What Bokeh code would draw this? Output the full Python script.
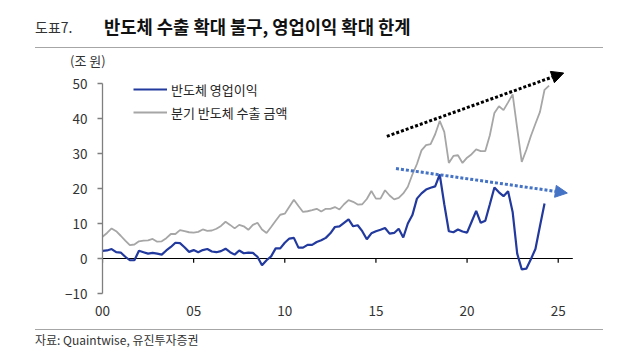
from bokeh.plotting import figure
from bokeh.models import (Legend, LegendItem, Arrow, NormalHead, Range1d,
                          FixedTicker, Div)
from bokeh.layouts import column
from bokeh.embed import file_html
from bokeh.resources import INLINE

# ---------------- data ----------------
# quarterly, 2000Q1 onward; x in years since 2000
op_profit = [2.2, 2.3, 2.7, 1.8, 1.7, 0.5, -0.5, -0.5, 2.2, 1.8, 1.4, 1.6,
             1.4, 1.1, 2.3, 3.3, 4.5, 4.4, 3.2, 1.9, 2.4, 1.8, 2.4, 2.7,
             2.0, 1.8, 2.1, 2.8, 1.8, 1.1, 2.3, 1.5, 1.7, 1.6, 0.5, -1.9,
             -0.5, 0.6, 2.9, 2.9, 4.5, 5.7, 5.9, 3.1, 3.1, 3.9, 3.9, 4.7,
             5.2, 5.9, 7.2, 9.0, 9.2, 10.2, 11.2, 9.2, 9.5, 7.8, 5.5, 7.2,
             7.8, 8.2, 8.7, 7.1, 7.3, 8.5, 6.0, 10.0, 12.4, 17.1, 18.6, 19.7,
             20.2, 20.6, 24.0, 15.5, 7.8, 7.5, 8.3, 7.7, 7.4, 10.5, 13.6, 10.2,
             10.8, 15.5, 20.3, 18.9, 17.8, 19.2, 13.3, 1.4, -3.1, -2.9, -0.2, 2.7,
             9.3, 15.7]
exports = [6.2, 7.3, 8.6, 7.8, 6.5, 5.1, 3.8, 4.0, 4.9, 5.1, 5.2, 5.6,
           4.8, 4.9, 5.8, 7.0, 7.0, 8.1, 7.8, 7.5, 7.4, 7.6, 8.3, 7.9,
           8.0, 8.5, 9.3, 10.5, 9.6, 8.6, 9.6, 9.2, 8.2, 9.6, 10.2, 8.3,
           7.3, 9.0, 10.8, 12.5, 12.8, 14.8, 16.8, 15.0, 13.3, 13.5, 13.8, 14.2,
           13.4, 14.2, 14.2, 14.7, 14.0, 15.5, 16.7, 16.2, 15.4, 15.5, 17.0, 19.3,
           17.1, 17.1, 19.5, 18.0, 16.9, 17.3, 18.6, 20.5, 24.0, 27.0, 30.9, 32.4,
           32.7, 35.5, 39.3, 36.2, 27.3, 29.3, 29.5, 27.3, 28.8, 29.8, 31.2, 30.7,
           30.7, 35.2, 41.6, 43.5, 42.4, 44.6, 46.9, 37.2, 27.6, 31.0, 35.0, 38.5,
           41.9, 48.2, 49.4]
x_ticks = [0, 5, 10, 15, 20, 25]
x_tick_labels = ["00", "05", "10", "15", "20", "25"]
y_ticks = [-10, 0, 10, 20, 30, 40, 50]
export_trend = [(15.6, 34.9), (25.3, 53.0)]
profit_trend = [(16.1, 25.7), (25.5, 18.7)]

series_names = ["반도체 영업이익", "분기 반도체 수출 금액"]
title_tag = "도표7."
title_text = "반도체 수출 확대 불구, 영업이익 확대 한계"
unit_text = "(조 원)"
source_text = "자료: Quaintwise, 유진투자증권"

t_op = [i * 0.25 for i in range(len(op_profit))]
t_ex = [i * 0.25 for i in range(len(exports))]

FONT = "Noto Sans CJK KR"
BLUE = "#22399E"
GRAY = "#A6A6A6"
TREND_BLUE = "#4472C4"
RULE = "#A6A6A6"

# ---------------- layout ----------------
W = 620
HEAD_H = 70
FIG_H = 259
FOOT_H = 26
ML, MR, MT, MB = 102, 20, 0, 36
X_END = 27.32
Y0 = -10
Y1 = Y0 + (FIG_H - MT - MB) / 3.5

head = Div(width=W, height=HEAD_H, margin=0, text=(
    f'<div style="font-family:\'{FONT}\';margin:0;padding:0;">'
    f'<div style="margin-left:35px;width:568px;height:48px;box-sizing:border-box;'
    f'padding-top:6px;border-bottom:1px solid {RULE};display:flex;align-items:center;">'
    f'<span style="display:inline-block;width:69px;font-size:14px;color:#333333;">{title_tag}</span>'
    f'<span style="font-size:17.7px;font-weight:bold;color:#111111;">{title_text}</span></div>'
    f'<div style="margin-left:70px;padding-top:3px;font-size:13px;line-height:20px;'
    f'color:#333333;">{unit_text}</div></div>'))

foot = Div(width=W, height=FOOT_H, margin=0, text=(
    f'<div style="font-family:\'{FONT}\';margin-left:35px;width:568px;'
    f'border-top:1px solid {RULE};padding-top:2px;font-size:12px;line-height:16px;'
    f'color:#333333;">{source_text}</div>'))

p = figure(width=W, height=FIG_H, x_range=Range1d(0, X_END), y_range=Range1d(Y0, Y1),
           output_backend="svg", toolbar_location=None,
           min_border_left=ML, min_border_right=MR, min_border_top=MT,
           min_border_bottom=MB)
p.outline_line_color = None
p.grid.visible = False
p.background_fill_color = "white"
p.border_fill_color = "white"

# y axis
ya = p.yaxis[0]
ya.ticker = FixedTicker(ticks=y_ticks)
ya.bounds = (-10, 50)
ya.major_tick_in = 0
ya.major_tick_out = 5
ya.minor_tick_in = 0
ya.minor_tick_out = 0
ya.axis_line_color = "#7F7F7F"
ya.axis_line_width = 1.3
ya.major_tick_line_color = "#7F7F7F"
ya.major_tick_line_width = 1.3
ya.major_label_text_font = FONT
ya.major_label_text_font_size = "13.5px"
ya.major_label_text_color = "#333333"
ya.major_label_standoff = 10

# x axis (labels only at bottom)
xa = p.xaxis[0]
xa.ticker = FixedTicker(ticks=x_ticks)
xa.major_label_overrides = dict(zip(x_ticks, x_tick_labels))
xa.axis_line_color = None
xa.major_tick_line_color = None
xa.minor_tick_line_color = None
xa.major_tick_in = 0
xa.major_tick_out = 0
xa.major_label_text_font = FONT
xa.major_label_text_font_size = "13.5px"
xa.major_label_text_color = "#333333"
xa.major_label_standoff = 12

# zero line with ticks
zero_end = 25.8
p.line([0, zero_end], [0, 0], line_color="black", line_width=1.2)
p.segment(x0=x_ticks, y0=[0] * len(x_ticks), x1=x_ticks, y1=[-1.2] * len(x_ticks),
          line_color="black", line_width=1.2)

# series
r_ex = p.line(t_ex, exports, line_color=GRAY, line_width=1.8)
r_op = p.line(t_op, op_profit, line_color=BLUE, line_width=2.2)

# trend arrows
for (a, b), col in ((export_trend, "black"), (profit_trend, TREND_BLUE)):
    p.add_layout(Arrow(end=NormalHead(size=12, fill_color=col, line_color=col),
                       x_start=a[0], y_start=a[1], x_end=b[0], y_end=b[1],
                       line_color=col, line_width=3, line_dash="3 2"))

legend = Legend(items=[LegendItem(label=series_names[0], renderers=[r_op]),
                       LegendItem(label=series_names[1], renderers=[r_ex])],
                location=(31, 171), padding=0, margin=0, spacing=3,
                glyph_width=34, glyph_height=20, label_height=20, label_standoff=4,
                label_text_font=FONT, label_text_font_size="13px",
                label_text_color="#262626",
                border_line_color=None, background_fill_alpha=0)
p.add_layout(legend)

layout = column(head, p, foot, spacing=0)
open("out.html", "w").write(file_html(layout, INLINE))
